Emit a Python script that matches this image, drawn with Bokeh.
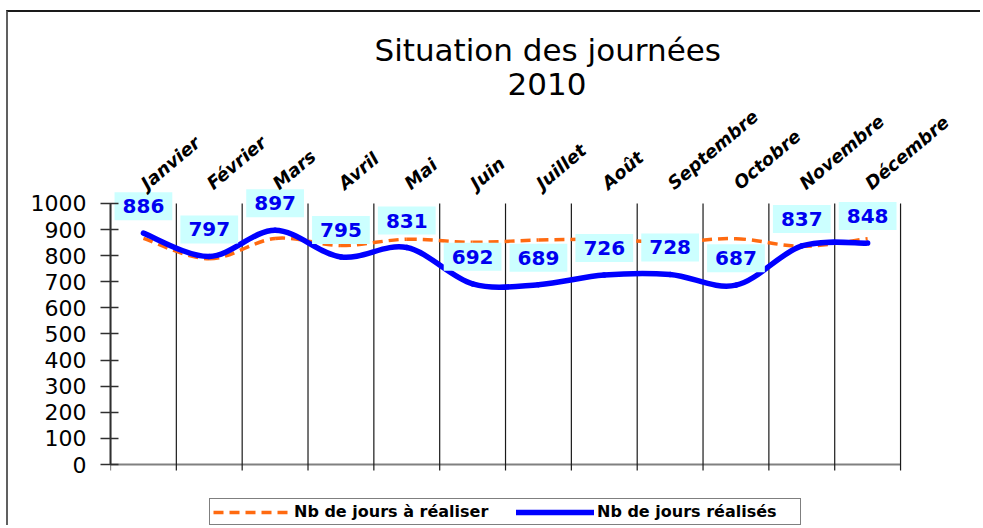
import numpy as np
from bokeh.plotting import figure
from bokeh.models import (Range1d, FixedTicker, ColumnDataSource, Legend,
                          LegendItem, Title, LinearAxis)
from bokeh.embed import file_html
from bokeh.resources import INLINE
from bokeh.core.properties import value

# ---------------- data ----------------
months = ["Janvier", "Février", "Mars", "Avril", "Mai", "Juin", "Juillet",
          "Août", "Septembre", "Octobre", "Novembre", "Décembre"]
planned = [866, 788, 866, 839, 863, 851, 860, 862, 852, 865, 836, 865]   # Nb de jours à réaliser
realised = [886, 797, 897, 795, 831, 692, 689, 726, 728, 687, 837, 848]  # Nb de jours réalisés
y_ticks = [0, 100, 200, 300, 400, 500, 600, 700, 800, 900, 1000]

x = list(range(1, len(months) + 1))
bounds_x = [i - 0.5 for i in x] + [x[-1] + 0.5]


def smooth(xs, ys):
    """Bezier control points (Catmull-Rom style) for a smoothed line."""
    xs = np.asarray(xs, float)
    ys = np.asarray(ys, float)
    n = len(xs)
    xp = np.concatenate([[xs[0]], xs, [xs[-1]]])
    yp = np.concatenate([[ys[0]], ys, [ys[-1]]])
    return dict(
        x0=xs[:-1], y0=ys[:-1], x1=xs[1:], y1=ys[1:],
        cx0=xs[:-1] + (xp[2:n + 1] - xp[0:n - 1]) / 6.0,
        cy0=ys[:-1] + (yp[2:n + 1] - yp[0:n - 1]) / 6.0,
        cx1=xs[1:] - (xp[3:n + 2] - xp[1:n]) / 6.0,
        cy1=ys[1:] - (yp[3:n + 2] - yp[1:n]) / 6.0,
    )


FONT = "DejaVu Sans"

p = figure(width=974, height=515,
           x_range=Range1d(0.5, 12.56), y_range=Range1d(-241, 1061),
           x_axis_location=None,
           output_backend="svg", toolbar_location=None,
           min_border_left=102, min_border_right=78,
           min_border_top=175, min_border_bottom=0)
p.title = None
p.outline_line_color = None
p.background_fill_color = "white"
p.border_fill_color = "white"
p.xgrid.visible = False
p.ygrid.visible = False
p.styles = {"margin-top": "10px", "margin-left": "6px",
            "border-top": "2px solid #1a1a1a", "border-left": "2px solid #606060"}

# y axis
ya = p.yaxis[0]
ya.ticker = FixedTicker(ticks=y_ticks)
ya.bounds = (0, 1000)
ya.axis_line_color = "#303030"
ya.axis_line_width = 2
ya.major_tick_line_color = "#303030"
ya.major_tick_line_width = 1.5
ya.major_tick_in = 8
ya.major_tick_out = 10
ya.minor_tick_line_color = None
ya.major_label_standoff = 14
ya.major_label_text_font = FONT
ya.major_label_text_font_size = "22px"
ya.major_label_text_color = "black"

# top axis with month names
ta = LinearAxis(ticker=FixedTicker(ticks=x),
                major_label_overrides={i: m for i, m in zip(x, months)})
ta.axis_line_color = None
ta.major_tick_line_color = None
ta.minor_tick_line_color = None
ta.major_tick_in = 0
ta.major_tick_out = 0
ta.major_label_orientation = 0.70
ta.major_label_standoff = 2
ta.major_label_text_font = FONT
ta.major_label_text_font_style = "bold italic"
ta.major_label_text_font_size = "18px"
ta.major_label_text_color = "black"
p.add_layout(ta, "above")

# horizontal axis line at y = 0 and vertical gridlines at category boundaries
nb = len(bounds_x)
p.segment(x0=[bounds_x[0]], x1=[bounds_x[-1]], y0=[y_ticks[0]], y1=[y_ticks[0]],
          line_color="#808080", line_width=2)
p.segment(x0=bounds_x, x1=bounds_x, y0=[-23] * nb, y1=[y_ticks[-1]] * nb,
          line_color="#1a1a1a", line_width=1.2)

# smoothed lines
src_plan = ColumnDataSource(smooth(x, planned))
src_real = ColumnDataSource(smooth(x, realised))
r_plan = p.bezier(x0="x0", y0="y0", x1="x1", y1="y1", cx0="cx0", cy0="cy0",
                  cx1="cx1", cy1="cy1", source=src_plan,
                  line_color="#FF6A10", line_width=3.5, line_dash="10 6")
r_real = p.bezier(x0="x0", y0="y0", x1="x1", y1="y1", cx0="cx0", cy0="cy0",
                  cx1="cx1", cy1="cy1", source=src_real,
                  line_color="#0000FF", line_width=5.5, line_cap="round")

# data labels
lab_src = ColumnDataSource(dict(x=x, y=realised, t=[str(v) for v in realised]))
p.text(x="x", y="y", text="t", source=lab_src, y_offset=-27,
       text_align="center", text_baseline="middle",
       text_font=value(FONT), text_font_style="bold",
       text_font_size="20px", text_color="#0000F0",
       background_fill_color="#CCFFFF", padding=(8, 7))

# legend
legend = Legend(items=[LegendItem(label="Nb de jours à réaliser", renderers=[r_plan]),
                       LegendItem(label="Nb de jours réalisés", renderers=[r_real])],
                orientation="horizontal", location=(99, 2),
                border_line_color="black", border_line_width=1,
                background_fill_color="white", background_fill_alpha=1,
                label_text_font=FONT, label_text_font_style="bold",
                label_text_font_size="16px", label_text_color="black",
                glyph_width=78, glyph_height=16, label_height=16, label_width=200,
                label_standoff=3, spacing=22, padding=3, margin=0)
p.add_layout(legend, "center")

# titles
p.add_layout(Title(text="2010", align="left", offset=397, text_font=FONT,
                   text_font_style="normal", text_font_size="31px",
                   text_color="black", standoff=0), "above")
p.add_layout(Title(text="Situation des journées", align="left", offset=264,
                   text_font=FONT, text_font_style="normal", text_font_size="31px",
                   text_color="black", standoff=6), "above")

open("out.html", "w").write(file_html(p, INLINE))
